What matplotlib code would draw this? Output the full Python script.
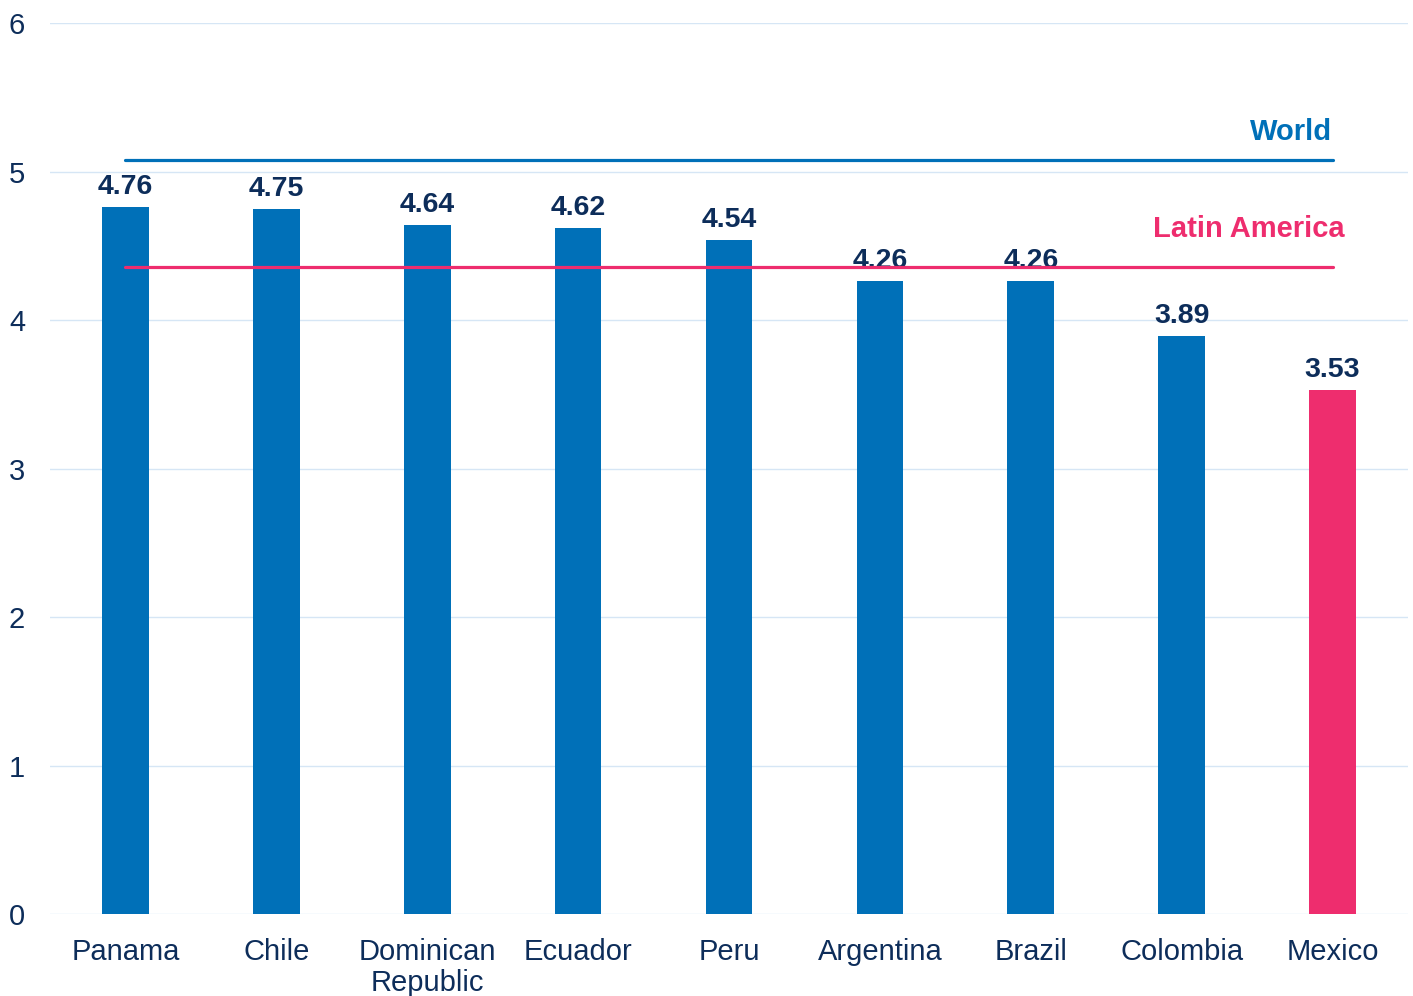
import matplotlib
matplotlib.use('Agg')
import matplotlib.pyplot as plt

plt.rcParams['font.family'] = ['Liberation Sans', 'DejaVu Sans']

countries = ['Panama', 'Chile', 'Dominican\nRepublic', 'Ecuador', 'Peru',
             'Argentina', 'Brazil', 'Colombia', 'Mexico']
values = [4.76, 4.75, 4.64, 4.62, 4.54, 4.26, 4.26, 3.89, 3.53]
world = 5.08
latam = 4.36

blue = '#0070b8'
pink = '#ee2d6e'
navy = '#0d2d5a'

colors = [blue] * (len(values) - 1) + [pink]

fig = plt.figure(figsize=(14.13, 9.96), dpi=100)
ax = fig.add_axes([50 / 1413, 82 / 996, 1358 / 1413, 891 / 996])

x = list(range(len(values)))
ax.bar(x, values, width=0.31, color=colors, zorder=3)

for xi, v in zip(x, values):
    ax.annotate('%.2f' % v, (xi, v), xytext=(0, 5), textcoords='offset points',
                ha='center', va='bottom', fontsize=20.5, fontweight='bold', color=navy, zorder=4)

ax.plot([x[0], x[-1]], [world, world], color=blue, lw=2.3, solid_capstyle='round', zorder=4)
ax.plot([x[0], x[-1]], [latam, latam], color=pink, lw=2.3, solid_capstyle='round', zorder=4)
ax.text(x[-1], world + 0.09, 'World', ha='right', va='bottom', fontsize=21,
        fontweight='bold', color=blue)
ax.text(x[-1] + 0.08, latam + 0.16, 'Latin America', ha='right', va='bottom', fontsize=21,
        fontweight='bold', color=pink)

ax.set_xlim(-0.5, 8.5)
ax.set_ylim(0, 6)
ax.set_yticks(range(7))
ax.set_xticks(x)
ax.set_xticklabels(countries, fontsize=21, color=navy, linespacing=1.15)
ax.tick_params(axis='both', length=0, labelsize=21, labelcolor=navy)
ax.tick_params(axis='x', pad=17)
ax.tick_params(axis='y', pad=18)
ax.grid(axis='y', color='#d6e6f5', lw=1, zorder=0)
for s in ax.spines.values():
    s.set_visible(False)

plt.savefig('out.png', dpi=100)
